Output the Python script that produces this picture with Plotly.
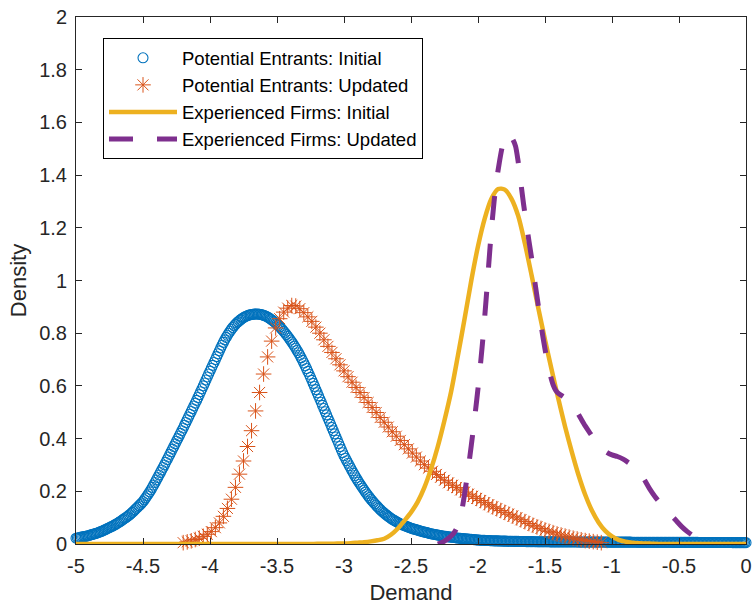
import numpy as np
import plotly.graph_objects as go

# ---- data ----
# Potential Entrants: Initial, x grid from -5 step 0.01 (one row = 0.1 units)
pe_init_x0, pe_init_dx = -5.0, 0.01
pe_init_y = [
    0.022, 0.023, 0.024, 0.025, 0.026, 0.027, 0.028, 0.029, 0.030, 0.0315,
    0.033, 0.0345, 0.036, 0.0375, 0.039, 0.0405, 0.042, 0.044, 0.046, 0.048,
    0.050, 0.0525, 0.055, 0.0575, 0.060, 0.0625, 0.065, 0.0675, 0.070, 0.073,
    0.076, 0.079, 0.082, 0.0855, 0.089, 0.0925, 0.096, 0.0995, 0.103, 0.107,
    0.111, 0.1155, 0.120, 0.125, 0.130, 0.135, 0.140, 0.145, 0.150, 0.1555,
    0.161, 0.168, 0.175, 0.1825, 0.190, 0.198, 0.206, 0.215, 0.224, 0.2335,
    0.243, 0.2525, 0.262, 0.2715, 0.281, 0.2905, 0.300, 0.310, 0.320, 0.330,
    0.340, 0.350, 0.360, 0.370, 0.380, 0.390, 0.400, 0.410, 0.420, 0.430,
    0.440, 0.4505, 0.461, 0.4715, 0.482, 0.4925, 0.503, 0.5135, 0.524, 0.5345,
    0.545, 0.556, 0.567, 0.578, 0.589, 0.600, 0.611, 0.6225, 0.634, 0.645,
    0.656, 0.667, 0.678, 0.689, 0.700, 0.711, 0.722, 0.733, 0.744, 0.7545,
    0.765, 0.7745, 0.784, 0.792, 0.800, 0.8075, 0.815, 0.8215, 0.828, 0.8335,
    0.839, 0.8435, 0.848, 0.852, 0.856, 0.859, 0.862, 0.8645, 0.867, 0.8685,
    0.870, 0.871, 0.872, 0.8725, 0.873, 0.873, 0.873, 0.872, 0.871, 0.8695,
    0.868, 0.866, 0.864, 0.861, 0.858, 0.8545, 0.851, 0.847, 0.843, 0.8385,
    0.834, 0.829, 0.824, 0.8185, 0.813, 0.807, 0.801, 0.7945, 0.788, 0.781,
    0.774, 0.7665, 0.759, 0.751, 0.743, 0.7345, 0.726, 0.7165, 0.707, 0.697,
    0.687, 0.6765, 0.666, 0.655, 0.644, 0.6325, 0.621, 0.6095, 0.598, 0.586,
    0.574, 0.562, 0.550, 0.538, 0.526, 0.514, 0.502, 0.490, 0.478, 0.466,
    0.454, 0.442, 0.430, 0.418, 0.406, 0.394, 0.382, 0.370, 0.358, 0.3465,
    0.335, 0.3255, 0.316, 0.3065, 0.297, 0.2875, 0.278, 0.269, 0.260, 0.2515,
    0.243, 0.235, 0.227, 0.2195, 0.212, 0.2045, 0.197, 0.190, 0.183, 0.1765,
    0.170, 0.164, 0.158, 0.1525, 0.147, 0.1415, 0.136, 0.131, 0.126, 0.1215,
    0.117, 0.113, 0.109, 0.105, 0.101, 0.0975, 0.094, 0.091, 0.088, 0.085,
    0.082, 0.0795, 0.077, 0.0745, 0.072, 0.070, 0.068, 0.066, 0.064, 0.062,
    0.060, 0.0585, 0.057, 0.0555, 0.054, 0.0525, 0.051, 0.0495, 0.048, 0.0465,
    0.045, 0.044, 0.043, 0.0415, 0.040, 0.039, 0.038, 0.037, 0.036, 0.035,
    0.034, 0.033, 0.032, 0.031, 0.030, 0.0295, 0.029, 0.028, 0.027, 0.0265,
    0.026, 0.0255, 0.025, 0.024, 0.023, 0.0225, 0.022, 0.0215, 0.021, 0.0205,
    0.020, 0.0195, 0.019, 0.0185, 0.018, 0.0175, 0.017, 0.0165, 0.016, 0.0155,
    0.015, 0.0148, 0.0145, 0.0143, 0.014, 0.0138, 0.0135, 0.0133, 0.013, 0.0128,
    0.0125, 0.0123, 0.012, 0.0119, 0.0118, 0.0117, 0.0115, 0.0114, 0.0112, 0.0111,
    0.011, 0.0109, 0.0107, 0.0106, 0.0105, 0.0104, 0.0102, 0.0101, 0.010, 0.0099,
    0.0098, 0.0097, 0.0096, 0.0095, 0.0094, 0.0093, 0.0092, 0.0091, 0.009, 0.009,
    0.0089, 0.0089, 0.0088, 0.0088, 0.0087, 0.0087, 0.0086, 0.0086, 0.0085, 0.0085,
    0.0084, 0.0084, 0.0083, 0.0083, 0.0082, 0.0082, 0.0081, 0.0081, 0.008, 0.008,
    0.0080, 0.0080, 0.0080, 0.0080, 0.0080, 0.0079, 0.0079, 0.0079, 0.0079, 0.0079,
    0.0078, 0.0078, 0.0078, 0.0078, 0.0078, 0.0077, 0.0077, 0.0077, 0.0077, 0.0077,
    0.0076, 0.0076, 0.0076, 0.0076, 0.0076, 0.0075, 0.0075, 0.0075, 0.0075, 0.0075,
    0.0074, 0.0074, 0.0074, 0.0074, 0.0074, 0.0073, 0.0073, 0.0073, 0.0073, 0.0073,
    0.0072, 0.0072, 0.0072, 0.0072, 0.0072, 0.0071, 0.0071, 0.0071, 0.0071, 0.0071,
    0.0070, 0.0070, 0.0070, 0.0070, 0.0070, 0.0069, 0.0069, 0.0069, 0.0069, 0.0069,
    0.0068, 0.0068, 0.0068, 0.0068, 0.0068, 0.0067, 0.0067, 0.0067, 0.0067, 0.0067,
    0.0066, 0.0066, 0.0066, 0.0066, 0.0066, 0.0065, 0.0065, 0.0065, 0.0065, 0.0065,
    0.0064, 0.0064, 0.0064, 0.0064, 0.0064, 0.0063, 0.0063, 0.0063, 0.0063, 0.0063,
    0.0062, 0.0062, 0.0062, 0.0062, 0.0062, 0.0061, 0.0061, 0.0061, 0.0061, 0.0061,
    0.0060, 0.0060, 0.0060, 0.0060, 0.0060, 0.0059, 0.0059, 0.0059, 0.0059, 0.0059,
    0.0058, 0.0058, 0.0058, 0.0058, 0.0058, 0.0057, 0.0057, 0.0057, 0.0057, 0.0057,
    0.0056, 0.0056, 0.0056, 0.0056, 0.0056, 0.0055, 0.0055, 0.0055, 0.0055, 0.0055,
    0.0054, 0.0054, 0.0054, 0.0054, 0.0054, 0.0053, 0.0053, 0.0053, 0.0053, 0.0053,
    0.0052,
]

# Potential Entrants: Updated, x grid from -4.2 step 0.03
pe_upd_x0, pe_upd_dx = -4.2, 0.03
pe_upd_y = [
    0.005, 0.008, 0.012, 0.017, 0.022, 0.029, 0.037, 0.047, 0.062, 0.080,
    0.105, 0.135, 0.170, 0.215, 0.265, 0.315, 0.370, 0.430, 0.505, 0.575,
    0.645, 0.710, 0.770, 0.820, 0.855, 0.880, 0.895, 0.905, 0.903, 0.893,
    0.878, 0.862, 0.845, 0.823, 0.800, 0.775, 0.750, 0.727, 0.703, 0.680,
    0.657, 0.635, 0.614, 0.594, 0.575, 0.556, 0.537, 0.518, 0.499, 0.480,
    0.462, 0.444, 0.426, 0.409, 0.393, 0.377, 0.361, 0.345, 0.330, 0.315,
    0.301, 0.288, 0.276, 0.264, 0.253, 0.242, 0.232, 0.223, 0.214, 0.205,
    0.197, 0.189, 0.181, 0.173, 0.165, 0.157, 0.149, 0.141, 0.134, 0.127,
    0.120, 0.113, 0.106, 0.099, 0.092, 0.085, 0.078, 0.071, 0.065, 0.059,
    0.053, 0.048, 0.043, 0.038, 0.034, 0.030, 0.026, 0.022, 0.019, 0.016,
    0.013, 0.011, 0.009, 0.007, 0.005,
]

# Experienced Firms: Initial, x grid from -5 step 0.05
ef_init_x0, ef_init_dx = -5.0, 0.05
ef_init_y = [0.0] * 36 + [
    0.0005, 0.001, 0.001, 0.0015,
    0.002, 0.003, 0.005, 0.007, 0.010, 0.014, 0.020, 0.035, 0.058, 0.088,
    0.120, 0.160, 0.215, 0.285, 0.370, 0.470, 0.580, 0.715, 0.855, 1.000,
    1.130, 1.235, 1.310, 1.347, 1.345, 1.310, 1.245, 1.140, 1.020, 0.895,
    0.775, 0.660, 0.550, 0.445, 0.350, 0.262, 0.187, 0.127, 0.082, 0.050,
    0.029, 0.016, 0.009, 0.005, 0.003, 0.002, 0.001,
] + [0.0] * 14

# Experienced Firms: Updated
ef_upd_x = [-2.30, -2.26, -2.22, -2.18, -2.15, -2.12, -2.10, -2.08, -2.06, -2.04,
            -2.02, -2.00, -1.98, -1.96, -1.94, -1.92, -1.90, -1.88, -1.86, -1.84,
            -1.82, -1.80, -1.78, -1.76, -1.74, -1.72, -1.70, -1.68, -1.66, -1.64,
            -1.62, -1.60, -1.58, -1.56, -1.54, -1.52, -1.50, -1.48, -1.46, -1.44,
            -1.42, -1.40, -1.36, -1.32, -1.28, -1.24, -1.20, -1.16, -1.12, -1.08,
            -1.04, -1.00, -0.96, -0.92, -0.88, -0.84, -0.80, -0.76, -0.72, -0.68,
            -0.64, -0.60, -0.56, -0.52, -0.48, -0.44, -0.40, -0.36, -0.32, -0.30]
ef_upd_y = [0.000, 0.008, 0.022, 0.042, 0.070, 0.130, 0.190, 0.260, 0.335, 0.415,
            0.500, 0.590, 0.690, 0.800, 0.925, 1.060, 1.190, 1.300, 1.385, 1.450,
            1.505, 1.540, 1.555, 1.550, 1.535, 1.510, 1.450, 1.370, 1.290, 1.220,
            1.150, 1.085, 1.010, 0.940, 0.870, 0.800, 0.740, 0.685, 0.640, 0.605,
            0.583, 0.572, 0.558, 0.543, 0.518, 0.483, 0.448, 0.418, 0.388, 0.365,
            0.348, 0.338, 0.332, 0.323, 0.310, 0.295, 0.275, 0.245, 0.210, 0.180,
            0.155, 0.133, 0.110, 0.088, 0.066, 0.048, 0.033, 0.021, 0.012, 0.008]

series_names = ["Potential Entrants: Initial", "Potential Entrants: Updated",
                "Experienced Firms: Initial", "Experienced Firms: Updated"]

x_ticks = [-5, -4.5, -4, -3.5, -3, -2.5, -2, -1.5, -1, -0.5, 0]
x_ticktext = ["-5", "-4.5", "-4", "-3.5", "-3", "-2.5", "-2", "-1.5", "-1", "-0.5", "0"]
y_ticks = [0, 0.2, 0.4, 0.6, 0.8, 1, 1.2, 1.4, 1.6, 1.8, 2]
y_ticktext = ["0", "0.2", "0.4", "0.6", "0.8", "1", "1.2", "1.4", "1.6", "1.8", "2"]

# ---- build x grids ----
pe_init_x = np.round(pe_init_x0 + pe_init_dx * np.arange(len(pe_init_y)), 4)
pe_upd_x = np.round(pe_upd_x0 + pe_upd_dx * np.arange(len(pe_upd_y)), 4)
ef_init_x = np.round(ef_init_x0 + ef_init_dx * np.arange(len(ef_init_y)), 4)

BLUE = "#0072BD"
ORANGE = "#D95319"
YELLOW = "#EDB120"
PURPLE = "#7E2F8E"
AXC = "#262626"
FONT = "Liberation Sans, Arial, Helvetica, sans-serif"

fig = go.Figure()
fig.add_trace(go.Scatter(
    x=pe_init_x, y=pe_init_y, mode="markers", name=series_names[0],
    marker=dict(symbol="circle-open", size=10, color=BLUE, line=dict(width=1.1, color=BLUE)),
    cliponaxis=False))
fig.add_trace(go.Scatter(
    x=pe_upd_x, y=pe_upd_y, mode="markers", name=series_names[1],
    marker=dict(symbol="asterisk-open", size=13, color=ORANGE, line=dict(width=1, color=ORANGE)),
    cliponaxis=False))
fig.add_trace(go.Scatter(
    x=ef_init_x, y=ef_init_y, mode="lines", name=series_names[2],
    line=dict(color=YELLOW, width=4.5, shape="spline", smoothing=0.8),
    cliponaxis=False))
fig.add_trace(go.Scatter(
    x=ef_upd_x, y=ef_upd_y, mode="lines", name=series_names[3],
    line=dict(color=PURPLE, width=5, dash="24px,24px", shape="spline", smoothing=0.8),
    cliponaxis=False))

fig.update_layout(
    width=752, height=605,
    margin=dict(l=76, r=6, t=17, b=61, autoexpand=False),
    paper_bgcolor="white", plot_bgcolor="white",
    font=dict(family=FONT, color=AXC),
    showlegend=True,
    legend=dict(
        x=0.0403, y=0.9596, xanchor="left", yanchor="top",
        bgcolor="white", bordercolor="black", borderwidth=1,
        font=dict(family=FONT, size=18.5, color="black"),
        itemwidth=68, tracegroupgap=0,
    ),
)
fig.update_xaxes(
    range=[-5, 0], tickvals=x_ticks, ticktext=x_ticktext,
    ticks="inside", ticklen=6, tickwidth=1, tickcolor=AXC,
    showline=True, linecolor=AXC, linewidth=1, mirror="ticks",
    showgrid=False, zeroline=False, ticklabelstandoff=4, automargin=False,
    tickfont=dict(family=FONT, size=20, color=AXC),
    title=dict(text="Demand", font=dict(family=FONT, size=22, color=AXC), standoff=17),
)
fig.update_yaxes(
    range=[0, 2], tickvals=y_ticks, ticktext=y_ticktext,
    ticks="inside", ticklen=6, tickwidth=1, tickcolor=AXC,
    showline=True, linecolor=AXC, linewidth=1, mirror="ticks",
    showgrid=False, zeroline=False, ticklabelstandoff=4, automargin=False,
    tickfont=dict(family=FONT, size=20, color=AXC),
    title=dict(text="Density", font=dict(family=FONT, size=22, color=AXC), standoff=6),
)

fig.write_html("out.html")
